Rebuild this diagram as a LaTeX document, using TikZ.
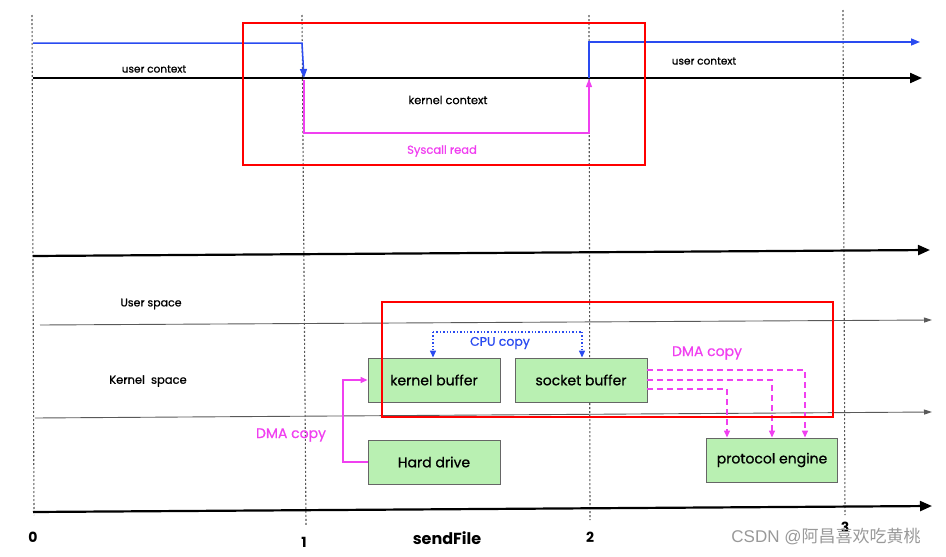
\documentclass[tikz,border=0pt]{standalone}
\usepackage{fontspec}
\setmainfont{Poppins}[FakeBold=0.7,BoldFeatures={FakeBold=0}]
\newfontfamily\cjk{Noto Sans CJK SC}
\newfontfamily\lib{Liberation Sans}
\usetikzlibrary{arrows.meta}
\definecolor{boxgreen}{HTML}{B9F0B2}
\definecolor{mag}{HTML}{F040F0}
\definecolor{bl}{HTML}{2A4BF0}
\begin{document}
\begin{tikzpicture}[x=1pt,y=-1pt,
  guide/.style={gray!70!black,line width=1.1pt,dash pattern=on 2pt off 2pt},
  axis/.style={line width=2.2pt,-{Triangle[length=12pt,width=10pt]}},
  thin/.style={line width=0.9pt,gray!70!black,-{Triangle[length=8pt,width=5pt]}},
  box/.style={draw=black!60,line width=0.9pt,fill=boxgreen,minimum width=132pt,minimum height=44pt,inner sep=0pt,font=\fontsize{14}{16}\selectfont},
  redbox/.style={draw=red,line width=2pt},
  lbl/.style={font=\fontsize{10.5}{12}\selectfont,inner sep=1pt},
  magline/.style={mag,line width=1.3pt},
  dmaarr/.style={mag,line width=1.4pt,dash pattern=on 6pt off 4pt,-{Triangle[length=7pt,width=6pt]}}
]
\useasboundingbox (0,0) rectangle (946,557);
% guides
\draw[guide] (32,15) -- (34,515);
\draw[guide] (302,15) -- (306,525);
\draw[guide] (589,15) -- (590,520);
\draw[guide] (843,10) -- (845,515);
% top part
\coordinate (a0) at (33,78);
\coordinate (a1) at (922,78);
\draw[axis] (a0) -- (a1);
\coordinate (b0) at (33,43);
\coordinate (b1) at (302,43);
\coordinate (b2) at (304,78);
\draw[bl,line width=1.5pt,-{Triangle[length=9pt,width=7pt]}] (b0) -- (b1) -- (b2);
\coordinate (c0) at (589,78);
\coordinate (c1) at (589,42);
\coordinate (c2) at (920,42);
\draw[bl,line width=1.5pt,-{Triangle[length=9pt,width=7pt]}] (c0) -- (c1) -- (c2);
\coordinate (m0) at (304,80);
\coordinate (m1) at (304,133);
\coordinate (m2) at (589,133);
\coordinate (m3) at (589,79);
\draw[magline,-{Triangle[length=8pt,width=6pt]}] (m0) -- (m1) -- (m2) -- (m3);
\node[lbl] (uc1) at (154,69) {user context};
\node[lbl] (uc2) at (704,61) {user context};
\node[lbl,font=\fontsize{11.3}{13}\selectfont] (kc) at (448,100) {kernel context};
\node[lbl,text=mag,font=\fontsize{11.5}{13}\selectfont] (sr) at (442,151) {Syscall read};
\draw[redbox] (243,23) rectangle (645,165);
% middle axis
\coordinate (d0) at (33,256);
\coordinate (d1) at (930,250);
\draw[axis] (d0) -- (d1);
% lower part
\node[lbl,font=\fontsize{11}{13}\selectfont] (us) at (151,304) {User space};
\coordinate (e0) at (40,325);
\coordinate (e1) at (932,320);
\draw[thin] (e0) -- (e1);
\node[lbl,font=\fontsize{11.5}{13}\selectfont] (ks) at (148,381) {Kernel\ \ space};
\coordinate (f0) at (35,418);
\coordinate (f1) at (932,412);
\draw[thin] (f0) -- (f1);
\coordinate (g0) at (33,512);
\coordinate (g1) at (932,506);
\draw[axis] (g0) -- (g1);
% boxes
\node[box] (kb) at (434,380) {kernel buffer};
\node[box] (sb) at (581,380) {socket buffer};
\node[box] (hd) at (434,462) {Hard drive};
\node[box,minimum width=131pt] (pe) at (772,460) {protocol engine};
% CPU copy
\coordinate (p1) at (433,332);
\coordinate (p2) at (582,332);
\draw[bl,line width=1.4pt,dotted,-{Triangle[length=7pt,width=6pt]}] (p1) -- (p1 |- kb.north);
\draw[bl,line width=1.4pt,dotted] (p1) -- (p2);
\draw[bl,line width=1.4pt,dotted,-{Triangle[length=7pt,width=6pt]}] (p2) -- (p2 |- sb.north);
\node[text=bl,font=\fontsize{12.5}{14}\selectfont] (cpu) at (500,343) {CPU copy};
% DMA copy left
\coordinate (h1) at (343,462);
\coordinate (h2) at (343,380);
\draw[magline,-{Triangle[length=7pt,width=6pt]}] (hd.west) -- (h1) -- (h2) -- (kb.west);
\node[text=mag,font=\fontsize{14}{16}\selectfont] (dma1) at (291,435) {DMA copy};
% DMA copy right
\coordinate (q1) at (805,370);
\coordinate (q2) at (772,380);
\coordinate (q3) at (727,389);
\draw[dmaarr] (sb.east |- q1) -- (q1) -- (q1 |- pe.north);
\draw[dmaarr] (sb.east |- q2) -- (q2) -- (q2 |- pe.north);
\draw[dmaarr] (sb.east |- q3) -- (q3) -- (q3 |- pe.north);
\node[text=mag,font=\fontsize{14}{16}\selectfont] (dma2) at (707,353) {DMA copy};
\draw[redbox] (382,302) rectangle (833,417);
% labels
\node[font=\fontsize{14}{16}\selectfont\bfseries] (n0) at (33,537) {0};
\node[font=\fontsize{14}{16}\selectfont\bfseries] (n1) at (304,542) {1};
\node[font=\fontsize{16}{18}\selectfont\bfseries] (sf) at (447,538) {sendFile};
\node[font=\fontsize{14}{16}\selectfont\bfseries] (n2) at (590,537) {2};
\node[font=\fontsize{14}{16}\selectfont\bfseries] (n3) at (845,527) {3};
\node[text=gray!80,font=\fontsize{17}{19}\selectfont] (wm) at (826,537) {\lib CSDN @\cjk 阿昌喜欢吃黄桃};
\end{tikzpicture}
\end{document}
